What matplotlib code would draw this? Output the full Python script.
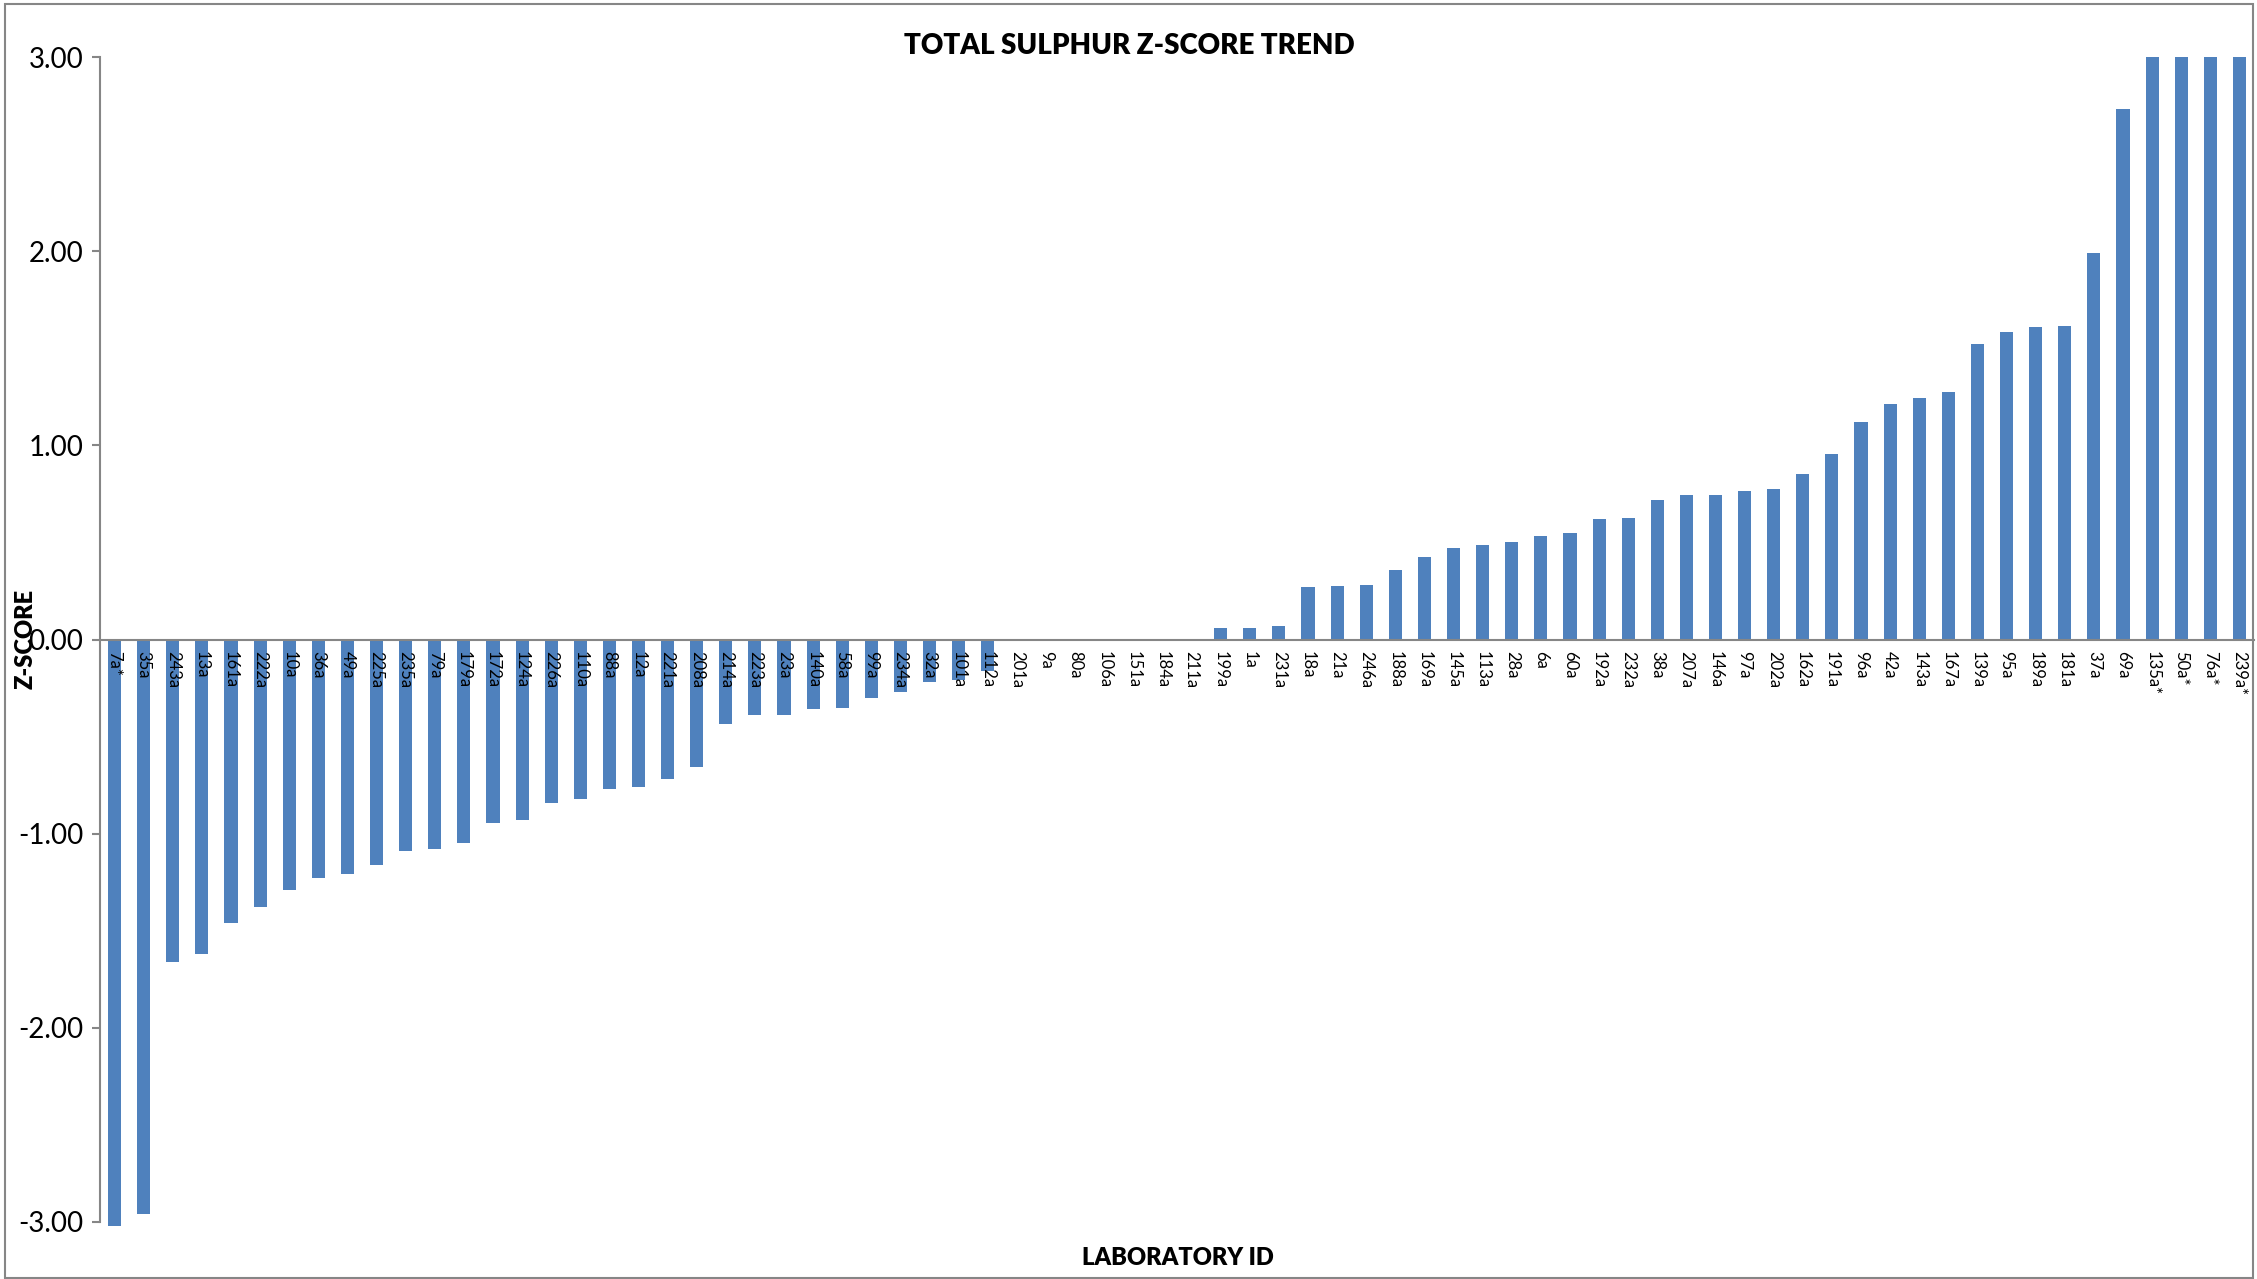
import matplotlib
matplotlib.use('Agg')
from matplotlib import pyplot
from matplotlib.patches import Rectangle

# laboratory ids in plotted order
labs = ['7a*', '35a', '243a', '13a', '161a', '222a', '10a', '36a', '49a', '225a',
        '235a', '79a', '179a', '172a', '124a', '226a', '110a', '88a', '12a', '221a',
        '208a', '214a', '223a', '23a', '140a', '58a', '99a', '234a', '32a', '101a',
        '112a', '201a', '9a', '80a', '106a', '151a', '184a', '211a', '199a', '1a',
        '231a', '18a', '21a', '246a', '188a', '169a', '145a', '113a', '28a', '6a',
        '60a', '192a', '232a', '38a', '207a', '146a', '97a', '202a', '162a', '191a',
        '96a', '42a', '143a', '167a', '139a', '95a', '189a', '181a', '37a', '69a',
        '135a*', '50a*', '76a*', '239a*']

# z-scores
z_scores = [-3.02, -2.96, -1.66, -1.62, -1.46, -1.38, -1.29, -1.23, -1.21, -1.16,
            -1.09, -1.08, -1.05, -0.945, -0.93, -0.84, -0.82, -0.77, -0.76, -0.72,
            -0.655, -0.435, -0.39, -0.387, -0.357, -0.354, -0.30, -0.27, -0.22, -0.21,
            -0.16, 0.0, 0.0, 0.0, 0.0, 0.0, 0.0, 0.0, 0.057, 0.06,
            0.067, 0.268, 0.275, 0.28, 0.357, 0.426, 0.472, 0.486, 0.50, 0.532,
            0.551, 0.62, 0.625, 0.718, 0.744, 0.744, 0.764, 0.775, 0.854, 0.957,
            1.118, 1.213, 1.242, 1.276, 1.522, 1.584, 1.61, 1.615, 1.99, 2.73,
            3.0, 3.0, 3.0, 3.0]

y_ticks = [-3, -2, -1, 0, 1, 2, 3]

W, H = 2257, 1279
AXIS_GREY = '#868686'
BAR_BLUE = '#4F81BD'
FONT = ['Lato', 'DejaVu Sans']

fig = pyplot.figure(figsize=(W / 100, H / 100), dpi=100)
ax = fig.add_axes([100 / W, 1 - 1222 / H, (2254 - 100) / W, (1222 - 57) / H])

x = list(range(len(labs)))
# bars below the axis artists so the id labels sit on top of them
ax.bar(x, z_scores, width=0.45, color=BAR_BLUE, clip_on=False, zorder=1)

ax.set_xlim(-0.5, len(labs) - 0.5)
ax.set_ylim(-3, 3)

# axes styling, excel-ish
for side in ['top', 'right']:
    ax.spines[side].set_visible(False)
ax.spines['left'].set_color(AXIS_GREY)
ax.spines['left'].set_linewidth(1.5)
ax.spines['bottom'].set_position(('data', 0))
ax.spines['bottom'].set_color(AXIS_GREY)
ax.spines['bottom'].set_linewidth(1.5)

ax.set_yticks(y_ticks)
ax.set_yticklabels(['%.2f' % t for t in y_ticks], family=FONT, fontsize=20)
ax.tick_params(axis='y', length=6, width=1.5, color=AXIS_GREY, pad=6)

ax.set_xticks(x)
ax.set_xticklabels(labs, rotation=270, fontsize=12, family=FONT, va='top', ha='center')
ax.tick_params(axis='x', length=0, pad=8)

# titles and axis names
fig.text(1129 / W, 1 - 46 / H, 'TOTAL SULPHUR Z-SCORE TREND', ha='center', va='center',
         fontsize=20, fontweight='heavy', family=FONT)
fig.text(1178 / W, 1 - 1258 / H, 'LABORATORY ID', ha='center', va='center',
         fontsize=17, fontweight='heavy', family=FONT)
fig.text(26 / W, 1 - 639 / H, 'Z-SCORE', ha='center', va='center', rotation=90,
         fontsize=17, fontweight='heavy', family=FONT)

# chart area border
fig.patches.append(Rectangle((5 / W, 1 / H), (2253 - 5) / W, (1275 - 1) / H, transform=fig.transFigure,
                             fill=False, edgecolor=AXIS_GREY, linewidth=1.5))

fig.savefig('out.png', dpi=100)
